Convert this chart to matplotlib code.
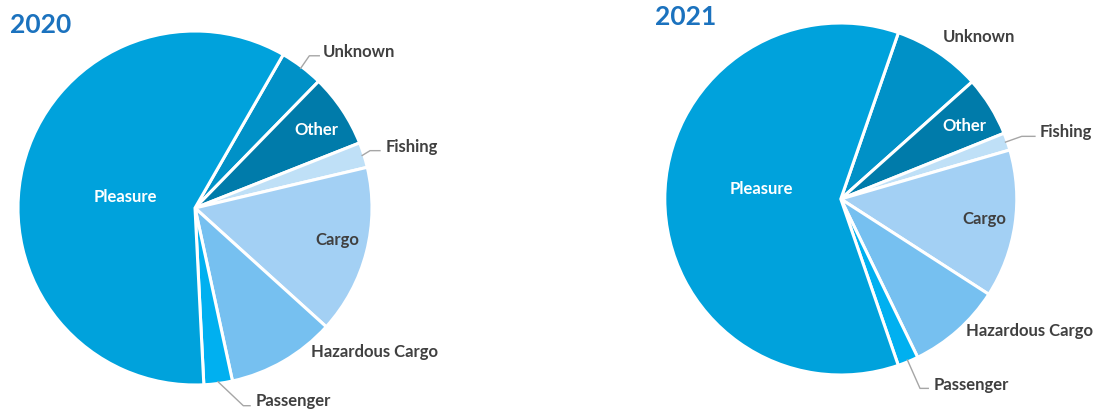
import numpy as np
import matplotlib.pyplot as plt

plt.rcParams['font.family'] = ['Lato', 'DejaVu Sans']

# vessel type shares (%), listed clockwise from the top of each pie
categories = ['Unknown', 'Other', 'Fishing', 'Cargo', 'Hazardous Cargo', 'Passenger', 'Pleasure']
share_2020 = [4.0, 6.7, 2.3, 15.4, 9.9, 2.6, 59.1]
share_2021 = [8.1, 5.5, 1.6, 13.6, 8.7, 1.9, 60.6]
years = ['2020', '2021']

colors = ['#0091C7', '#007BAA', '#BFE0F7', '#A3D0F4', '#76C0F0', '#00B0F0', '#00A2DC']

W, H = 1099, 410
fig = plt.figure(figsize=(W / 100, H / 100), dpi=100)

dark = '#404040'
grey = '#A6A6A6'


def draw_pie(cx, cy, r, values, start, labels, title, title_xy):
    # axes placed in pixels so the pie fills it edge to edge
    ax = fig.add_axes([(cx - r) / W, (H - cy - r) / H, 2 * r / W, 2 * r / H])
    wedges, _ = ax.pie(values, colors=colors, startangle=start, counterclock=False,
                       wedgeprops=dict(edgecolor='white', linewidth=2.2))
    ax.set_xlim(-1, 1)
    ax.set_ylim(-1, 1)
    ax.axis('off')

    for w, name in zip(wedges, categories):
        spec = labels[name]
        x, y = spec['xy']
        col = spec.get('color', dark)
        ax.text(x, y, name, color=col, fontsize=12, fontweight='bold',
                ha=spec.get('ha', 'left'), va='center')
        if 'leader' in spec:
            mid = np.deg2rad((w.theta1 + w.theta2) / 2)
            xs = [0.99 * np.cos(mid)] + [p[0] for p in spec['leader']]
            ys = [0.99 * np.sin(mid)] + [p[1] for p in spec['leader']]
            ax.plot(xs, ys, color=grey, lw=1, clip_on=False)

    fig.text(title_xy[0] / W, 1 - title_xy[1] / H, title, color='#1B72BE',
             fontsize=19, fontweight='bold', ha='left', va='center')


labels_2020 = {
    'Pleasure': dict(xy=(-0.395, 0.068), color='white', ha='center'),
    'Other': dict(xy=(0.684, 0.446), color='white', ha='center'),
    'Cargo': dict(xy=(0.802, -0.175), ha='center'),
    'Unknown': dict(xy=(0.723, 0.887), leader=[(0.646, 0.860), (0.702, 0.860)]),
    'Fishing': dict(xy=(1.079, 0.350), leader=[(0.989, 0.324), (1.045, 0.324)]),
    'Hazardous Cargo': dict(xy=(0.655, -0.808)),
    'Passenger': dict(xy=(0.343, -1.085), leader=[(0.273, -1.117), (0.311, -1.117)]),
}

labels_2021 = {
    'Pleasure': dict(xy=(-0.449, 0.061), color='white', ha='center'),
    'Other': dict(xy=(0.700, 0.422), color='white', ha='center'),
    'Cargo': dict(xy=(0.815, -0.110), ha='center'),
    'Unknown': dict(xy=(0.787, 0.924), ha='center'),
    'Fishing': dict(xy=(1.128, 0.388), leader=[(1.028, 0.356), (1.103, 0.356)]),
    'Hazardous Cargo': dict(xy=(0.711, -0.743)),
    'Passenger': dict(xy=(0.526, -1.051), leader=[(0.450, -1.076), (0.497, -1.076)]),
}

draw_pie(195, 209, 177, share_2020, 60.1, labels_2020, years[0], (10, 25))
draw_pie(840.8, 200, 176, share_2021, 70.9, labels_2021, years[1], (655, 17))

fig.savefig('out.png', dpi=100)
